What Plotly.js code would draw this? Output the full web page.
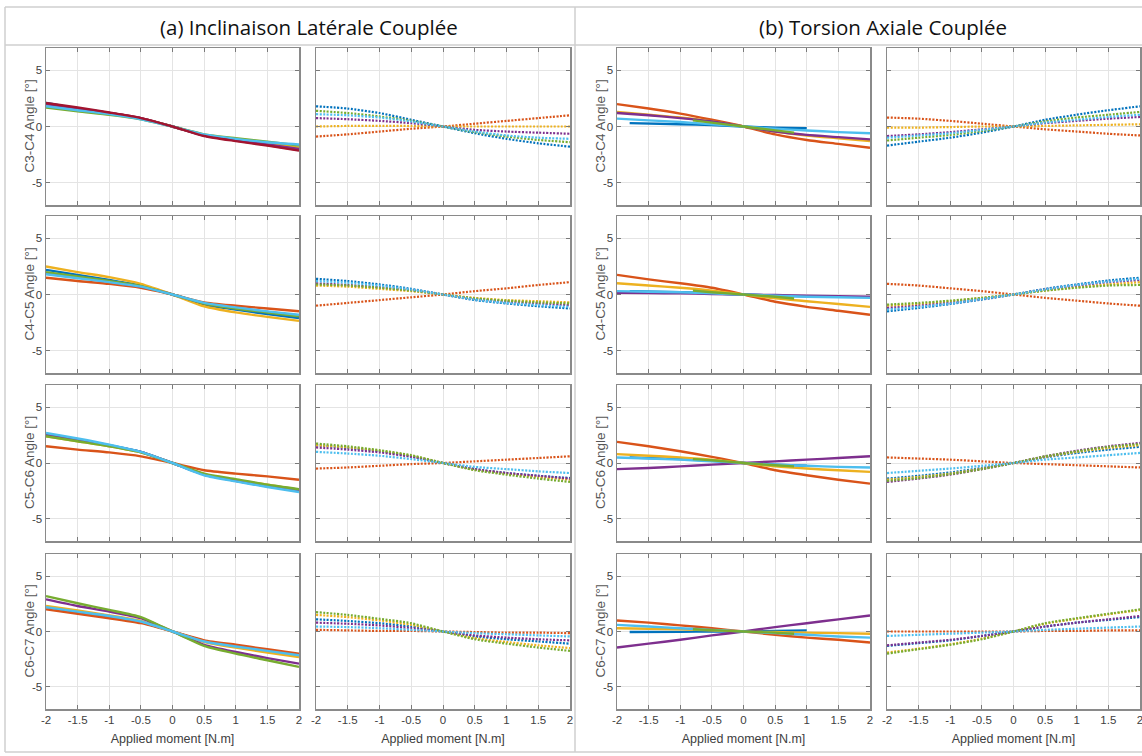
<!DOCTYPE html>
<html><head><meta charset="utf-8">
<script src="https://cdn.plot.ly/plotly-3.0.1.min.js"></script>
<style>html,body{margin:0;padding:0;background:#fff}#chart{width:1142px;height:756px}</style>
</head><body><div id="chart"></div>
<script>
// ---------------- DATA ----------------
const sectionTitles = ['(a) Inclinaison Latérale Couplée', '(b) Torsion Axiale Couplée'];
const levelLabels = ['C3-C4', 'C4-C5', 'C5-C6', 'C6-C7'];
const xAxisTitle = 'Applied moment [N.m]';
const xTickVals = [-2, -1.5, -1, -0.5, 0, 0.5, 1, 1.5, 2];
const xTickText = ['-2', '-1.5', '-1', '-0.5', '0', '0.5', '1', '1.5', '2'];
const yTickVals = [-5, 0, 5];
const yTickText = ['-5', '0', '5'];
const moment = [-2, -1.5, -1, -0.5, 0, 0.5, 1, 1.5, 2];
const momentShortBlue = [-1.8, -1, -0.5, 0, 0.5, 1];
const momentShortGreen = [-0.8, -0.5, 0, 0.5, 0.8];
// series order: blue, orange, yellow, purple, green, lightblue, darkred

// (a) left: primary motion
const lbMain_C3C4 = [
  [2.1, 1.6, 1.2, 0.7, 0, -0.8, -1.2, -1.6, -2.0],
  [2.0, 1.6, 1.2, 0.75, 0, -0.8, -1.25, -1.65, -2.1],
  [1.9, 1.5, 1.15, 0.7, 0, -0.75, -1.15, -1.5, -1.9],
  [2.0, 1.6, 1.2, 0.75, 0, -0.8, -1.2, -1.6, -2.0],
  [1.7, 1.35, 1.05, 0.65, 0, -0.7, -1.05, -1.35, -1.7],
  [1.8, 1.45, 1.1, 0.65, 0, -0.7, -1.1, -1.4, -1.6],
  [2.1, 1.7, 1.25, 0.75, 0, -0.85, -1.3, -1.7, -2.15]
];
const lbMain_C4C5 = [
  [2.2, 1.75, 1.3, 0.8, 0, -0.9, -1.35, -1.75, -2.1],
  [1.5, 1.2, 0.95, 0.6, 0, -0.7, -1.0, -1.25, -1.5],
  [2.5, 2.0, 1.55, 0.95, 0, -1.05, -1.6, -2.0, -2.35],
  [1.9, 1.55, 1.15, 0.7, 0, -0.8, -1.2, -1.55, -1.9],
  [2.0, 1.6, 1.2, 0.75, 0, -0.8, -1.25, -1.6, -1.95],
  [1.8, 1.45, 1.1, 0.7, 0, -0.75, -1.15, -1.5, -1.8]
];
const lbMain_C5C6 = [
  [2.6, 2.1, 1.6, 1.0, 0, -1.05, -1.6, -2.1, -2.5],
  [1.5, 1.2, 0.95, 0.6, 0, -0.65, -0.95, -1.2, -1.5],
  [2.4, 1.95, 1.5, 0.95, 0, -1.0, -1.55, -1.95, -2.4],
  [2.5, 2.05, 1.55, 1.0, 0, -1.05, -1.6, -2.05, -2.5],
  [2.4, 1.95, 1.5, 0.95, 0, -0.95, -1.45, -1.95, -2.35],
  [2.7, 2.2, 1.65, 1.0, 0, -1.1, -1.65, -2.15, -2.6]
];
const lbMain_C6C7 = [
  [2.2, 1.75, 1.35, 0.85, 0, -0.85, -1.3, -1.7, -2.1],
  [2.0, 1.6, 1.2, 0.75, 0, -0.8, -1.2, -1.6, -2.0],
  [2.3, 1.9, 1.45, 0.95, 0, -0.95, -1.45, -1.9, -2.3],
  [2.9, 2.3, 1.8, 1.2, 0, -1.2, -1.85, -2.4, -2.9],
  [3.2, 2.55, 1.95, 1.3, 0, -1.3, -2.0, -2.6, -3.2],
  [2.2, 1.8, 1.4, 0.9, 0, -0.9, -1.35, -1.75, -2.15]
];
// (a) right: coupled motion
const lbCoupled_C3C4 = [
  [1.8, 1.6, 1.2, 0.6, 0, -0.6, -1.1, -1.5, -1.8],
  [-0.9, -0.7, -0.45, -0.2, 0, 0.25, 0.5, 0.75, 1.0],
  [0, 0.05, 0.05, 0.05, 0, 0, 0, 0, 0],
  [0.75, 0.65, 0.5, 0.3, 0, -0.3, -0.45, -0.55, -0.65],
  [1.4, 1.2, 0.9, 0.5, 0, -0.5, -0.9, -1.2, -1.4],
  [1.1, 1.0, 0.8, 0.45, 0, -0.45, -0.8, -1.0, -1.1]
];
const lbCoupled_C4C5 = [
  [1.4, 1.2, 0.9, 0.5, 0, -0.5, -0.8, -1.05, -1.25],
  [-1.0, -0.75, -0.5, -0.25, 0, 0.3, 0.55, 0.85, 1.1],
  [0.8, 0.7, 0.5, 0.3, 0, -0.3, -0.5, -0.6, -0.7],
  [1.0, 0.85, 0.65, 0.4, 0, -0.4, -0.65, -0.8, -0.95],
  [0.9, 0.8, 0.6, 0.35, 0, -0.35, -0.55, -0.7, -0.8],
  [1.2, 1.05, 0.8, 0.45, 0, -0.45, -0.75, -0.95, -1.1]
];
const lbCoupled_C5C6 = [
  [1.6, 1.35, 1.05, 0.6, 0, -0.55, -0.9, -1.15, -1.35],
  [-0.5, -0.4, -0.25, -0.1, 0, 0.15, 0.3, 0.45, 0.6],
  [1.6, 1.4, 1.1, 0.65, 0, -0.6, -0.95, -1.25, -1.5],
  [1.4, 1.2, 0.95, 0.55, 0, -0.55, -0.9, -1.15, -1.4],
  [1.75, 1.5, 1.15, 0.7, 0, -0.65, -1.05, -1.4, -1.7],
  [1.0, 0.85, 0.65, 0.35, 0, -0.35, -0.55, -0.75, -0.9]
];
const lbCoupled_C6C7 = [
  [1.1, 0.95, 0.75, 0.45, 0, -0.45, -0.7, -0.9, -1.1],
  [0.15, 0.1, 0.05, 0.05, 0, -0.05, -0.1, -0.1, -0.15],
  [1.5, 1.3, 1.0, 0.6, 0, -0.6, -0.95, -1.25, -1.5],
  [0.8, 0.7, 0.55, 0.3, 0, -0.35, -0.55, -0.7, -0.8],
  [1.75, 1.5, 1.15, 0.75, 0, -0.7, -1.1, -1.45, -1.75],
  [0.45, 0.4, 0.3, 0.15, 0, -0.15, -0.25, -0.35, -0.45]
];
// (b) left: full-range series (orange, yellow, purple, lightblue) + short segments
const arMain_C3C4 = [
  [2.0, 1.6, 1.15, 0.6, 0, -0.7, -1.2, -1.55, -1.9],
  [1.3, 1.05, 0.8, 0.45, 0, -0.45, -0.8, -1.05, -1.3],
  [1.2, 1.0, 0.75, 0.45, 0, -0.45, -0.75, -0.95, -1.15],
  [0.7, 0.55, 0.4, 0.2, 0, -0.2, -0.35, -0.5, -0.6]
];
const arShortBlue_C3C4 = [0.3, 0.2, 0.12, 0, -0.1, -0.15];
const arShortGreen_C3C4 = [0.55, 0.35, 0, -0.35, -0.55];
const arMain_C4C5 = [
  [1.75, 1.35, 1.0, 0.6, 0, -0.65, -1.1, -1.45, -1.8],
  [1.0, 0.8, 0.6, 0.35, 0, -0.35, -0.6, -0.85, -1.1],
  [0.15, 0.12, 0.1, 0.05, 0, -0.05, -0.1, -0.15, -0.2],
  [0.3, 0.25, 0.2, 0.1, 0, -0.1, -0.2, -0.25, -0.3]
];
const arShortBlue_C4C5 = [0.3, 0.2, 0.1, 0, -0.1, -0.15];
const arShortGreen_C4C5 = [0.35, 0.2, 0, -0.2, -0.35];
const arMain_C5C6 = [
  [1.9, 1.5, 1.05, 0.55, 0, -0.65, -1.1, -1.5, -1.85],
  [0.8, 0.65, 0.5, 0.3, 0, -0.3, -0.5, -0.65, -0.8],
  [-0.55, -0.45, -0.3, -0.15, 0, 0.15, 0.3, 0.45, 0.6],
  [0.5, 0.4, 0.3, 0.15, 0, -0.15, -0.25, -0.35, -0.4]
];
const arShortBlue_C5C6 = [0.5, 0.35, 0.2, 0, -0.15, -0.25];
const arShortGreen_C5C6 = [0.35, 0.25, 0, -0.2, -0.3];
const arMain_C6C7 = [
  [1.0, 0.8, 0.55, 0.3, 0, -0.3, -0.55, -0.75, -1.0],
  [0.3, 0.25, 0.2, 0.1, 0, -0.05, -0.1, -0.15, -0.2],
  [-1.45, -1.1, -0.75, -0.35, 0, 0.4, 0.75, 1.1, 1.45],
  [0.6, 0.45, 0.3, 0.15, 0, -0.15, -0.3, -0.45, -0.55]
];
const arShortBlue_C6C7 = [-0.05, -0.03, 0, 0, 0.05, 0.1];
const arShortGreen_C6C7 = [0.2, 0.12, 0, -0.1, -0.2];
// (b) right: coupled motion
const arCoupled_C3C4 = [
  [-1.7, -1.35, -1.0, -0.55, 0, 0.6, 1.05, 1.45, 1.8],
  [0.8, 0.7, 0.5, 0.25, 0, -0.25, -0.45, -0.65, -0.8],
  [-0.1, -0.1, -0.05, 0, 0, 0.05, 0.1, 0.15, 0.2],
  [-0.85, -0.7, -0.5, -0.25, 0, 0.3, 0.5, 0.7, 0.85],
  [-1.25, -1.0, -0.75, -0.4, 0, 0.45, 0.8, 1.05, 1.3],
  [-1.0, -0.8, -0.6, -0.3, 0, 0.35, 0.6, 0.85, 1.05]
];
const arCoupled_C4C5 = [
  [-1.5, -1.2, -0.85, -0.45, 0, 0.5, 0.9, 1.25, 1.5],
  [0.95, 0.8, 0.55, 0.3, 0, -0.3, -0.55, -0.8, -1.0],
  [-1.0, -0.85, -0.6, -0.3, 0, 0.35, 0.65, 0.9, 1.1],
  [-1.2, -1.0, -0.75, -0.4, 0, 0.45, 0.8, 1.1, 1.3],
  [-0.9, -0.75, -0.55, -0.3, 0, 0.35, 0.6, 0.8, 0.85],
  [-1.35, -1.1, -0.8, -0.4, 0, 0.45, 0.85, 1.15, 1.4]
];
const arCoupled_C5C6 = [
  [-1.4, -1.15, -0.85, -0.45, 0, 0.5, 0.9, 1.2, 1.45],
  [0.5, 0.4, 0.3, 0.15, 0, -0.1, -0.2, -0.3, -0.4],
  [-1.5, -1.25, -0.95, -0.5, 0, 0.55, 1.0, 1.35, 1.6],
  [-1.7, -1.4, -1.05, -0.55, 0, 0.6, 1.1, 1.5, 1.8],
  [-1.6, -1.35, -1.0, -0.55, 0, 0.6, 1.05, 1.45, 1.7],
  [-0.9, -0.7, -0.5, -0.25, 0, 0.3, 0.5, 0.7, 0.9]
];
const arCoupled_C6C7 = [
  [-1.3, -1.05, -0.8, -0.4, 0, 0.45, 0.8, 1.05, 1.3],
  [0, 0, 0, 0, 0, 0.05, 0.05, 0.1, 0.1],
  [-1.9, -1.55, -1.15, -0.65, 0, 0.7, 1.15, 1.55, 1.95],
  [-1.25, -1.0, -0.75, -0.4, 0, 0.45, 0.8, 1.1, 1.4],
  [-2.0, -1.6, -1.2, -0.7, 0, 0.75, 1.2, 1.6, 2.0],
  [-0.4, -0.3, -0.2, -0.1, 0, 0.15, 0.25, 0.35, 0.45]
];

// ---------------- STYLE / LAYOUT ----------------
const C = {blue:'#0072BD', orange:'#D95319', yellow:'#EDB120', purple:'#7E2F8E',
           green:'#77AC30', lightblue:'#4DBEEE', darkred:'#A2142F'};
const fullOrder = [C.blue, C.orange, C.yellow, C.purple, C.green, C.lightblue, C.darkred];
const arOrder = [C.orange, C.yellow, C.purple, C.lightblue];

const W = 1142, H = 756;
const colPx = [[46, 299], [316, 570], [617, 870], [887, 1140]];
const rowPx = [[48, 205], [216, 373], [385, 541], [554, 709]];
const yTitleXPx = [29, 600];
const tickFontFam = 'Liberation Sans Narrow, Arial Narrow, Liberation Sans, Arial, sans-serif';
const titleFontFam = 'Liberation Sans, Arial, sans-serif';

const panels = [
  [lbMain_C3C4, lbCoupled_C3C4, arMain_C3C4, arCoupled_C3C4, arShortBlue_C3C4, arShortGreen_C3C4],
  [lbMain_C4C5, lbCoupled_C4C5, arMain_C4C5, arCoupled_C4C5, arShortBlue_C4C5, arShortGreen_C4C5],
  [lbMain_C5C6, lbCoupled_C5C6, arMain_C5C6, arCoupled_C5C6, arShortBlue_C5C6, arShortGreen_C5C6],
  [lbMain_C6C7, lbCoupled_C6C7, arMain_C6C7, arCoupled_C6C7, arShortBlue_C6C7, arShortGreen_C6C7]
];

const traces = [];
const layout = {
  width: W, height: H, margin: {l: 0, r: 0, t: 0, b: 0},
  paper_bgcolor: '#fff', plot_bgcolor: '#fff', showlegend: false,
  font: {family: tickFontFam, color: '#404040'},
  shapes: [], annotations: []
};
const px2x = v => v / W, px2y = v => 1 - v / H;

function lineStyle(color, dotted) {
  return dotted ? {color: color, width: 2.2, dash: '2px,1.5px', shape: 'spline', smoothing: 0.6}
                : {color: color, width: 2.4, shape: 'spline', smoothing: 0.6};
}

let idx = 0;
for (let r = 0; r < 4; r++) {
  for (let c = 0; c < 4; c++) {
    idx++;
    const sfx = idx === 1 ? '' : String(idx);
    const xa = 'x' + sfx, ya = 'y' + sfx;
    const dotted = (c === 1 || c === 3);
    const p = panels[r];
    if (c === 0 || c === 1 || c === 3) {
      const set = p[c];
      set.forEach((vals, k) => traces.push({type: 'scatter', mode: 'lines', x: moment, y: vals,
        xaxis: xa, yaxis: ya, line: lineStyle(fullOrder[k], dotted), hoverinfo: 'skip'}));
    } else {
      traces.push({type: 'scatter', mode: 'lines', x: momentShortBlue, y: p[4], xaxis: xa, yaxis: ya,
        line: lineStyle(C.blue, false), hoverinfo: 'skip'});
      p[2].forEach((vals, k) => traces.push({type: 'scatter', mode: 'lines', x: moment, y: vals,
        xaxis: xa, yaxis: ya, line: lineStyle(arOrder[k], false), hoverinfo: 'skip'}));
      traces.push({type: 'scatter', mode: 'lines', x: momentShortGreen, y: p[5], xaxis: xa, yaxis: ya,
        line: lineStyle(C.green, false), hoverinfo: 'skip'});
    }
    const common = {ticks: 'inside', ticklen: 4, tickwidth: 1, tickcolor: '#7a7a7a',
      showline: true, linecolor: '#8a8a8a', linewidth: 1.5, mirror: 'ticks',
      showgrid: true, gridcolor: '#e4e4e4', gridwidth: 1, zeroline: false, fixedrange: true,
      ticklabeloverflow: 'allow',
      tickfont: {family: tickFontFam, size: 11.5, color: '#404040'}};
    layout['xaxis' + sfx] = Object.assign({}, common, {
      domain: [colPx[c][0] / W, colPx[c][1] / W], anchor: ya, range: [-2, 2],
      tickmode: 'array', tickvals: xTickVals, ticktext: xTickText,
      showticklabels: r === 3,
      title: r === 3 ? {text: xAxisTitle, font: {family: tickFontFam, size: 12.5, color: '#404040'}, standoff: 9} : {text: ''}
    });
    layout['yaxis' + sfx] = Object.assign({}, common, {
      domain: [1 - rowPx[r][1] / H, 1 - rowPx[r][0] / H], anchor: xa, range: [-7, 7],
      tickmode: 'array', tickvals: yTickVals, ticktext: yTickText,
      showticklabels: (c === 0 || c === 2),
      title: {text: ''}
    });
    if (c === 0 || c === 2) {
      layout.annotations.push({xref: 'paper', yref: 'paper', x: px2x(yTitleXPx[c / 2]),
        y: px2y((rowPx[r][0] + rowPx[r][1]) / 2), text: levelLabels[r] + ' Angle [°]', textangle: -90,
        showarrow: false, xanchor: 'center', yanchor: 'middle',
        font: {family: titleFontFam, size: 13.5, color: '#555'}});
    }
  }
}

// table frame
const gl = {color: '#cfcfcf', width: 1.5};
layout.shapes.push(
  {type: 'line', xref: 'paper', yref: 'paper', x0: px2x(5), x1: px2x(1142), y0: px2y(7), y1: px2y(7), line: gl},
  {type: 'line', xref: 'paper', yref: 'paper', x0: px2x(5), x1: px2x(1142), y0: px2y(45), y1: px2y(45), line: gl},
  {type: 'line', xref: 'paper', yref: 'paper', x0: px2x(5), x1: px2x(1142), y0: px2y(752), y1: px2y(752), line: gl},
  {type: 'line', xref: 'paper', yref: 'paper', x0: px2x(5), x1: px2x(5), y0: px2y(7), y1: px2y(752), line: gl},
  {type: 'line', xref: 'paper', yref: 'paper', x0: px2x(575), x1: px2x(575), y0: px2y(7), y1: px2y(752), line: gl}
);
layout.annotations.push(
  {xref: 'paper', yref: 'paper', x: px2x(309), y: px2y(27), text: sectionTitles[0], showarrow: false,
   xanchor: 'center', yanchor: 'middle', font: {family: 'Open Sans, Noto Sans, sans-serif', size: 20.5, color: '#111'}},
  {xref: 'paper', yref: 'paper', x: px2x(883), y: px2y(27), text: sectionTitles[1], showarrow: false,
   xanchor: 'center', yanchor: 'middle', font: {family: 'Open Sans, Noto Sans, sans-serif', size: 20.5, color: '#111'}}
);

Plotly.newPlot('chart', traces, layout, {displayModeBar: false, staticPlot: true});
</script></body></html>
